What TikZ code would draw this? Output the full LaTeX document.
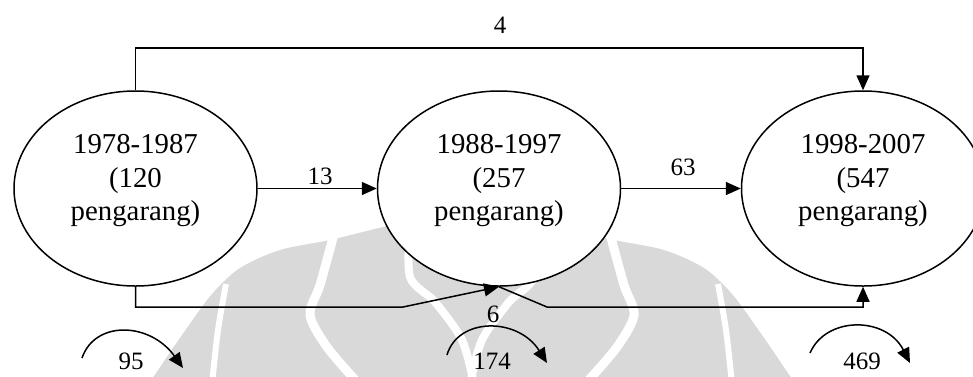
\documentclass[tikz,border=0pt]{standalone}
\usepackage{fontspec}
\setmainfont{Liberation Serif}
\usetikzlibrary{arrows.meta,shapes.geometric}
\begin{document}
\begin{tikzpicture}[x=1pt,y=-1pt,
  conn/.style={line width=1.5pt},
  arr/.style={conn,-{Triangle[length=15pt,width=13pt]}},
  period/.style={ellipse,draw,line width=1.5pt,fill=white,minimum width=243pt,minimum height=195pt,inner sep=0pt},
  ptext/.style={align=center,font=\fontsize{28.8}{33.5}\selectfont,inner sep=0pt},
  lbl/.style={font=\fontsize{25}{30}\selectfont,inner sep=0pt,anchor=base},
  wm/.style={fill=black!15},
  band/.style={draw=white,line width=8pt}]
\path[use as bounding box] (0,0) rectangle (973,376);
\clip (0,0) rectangle (973,376);
% watermark
\fill[wm] plot[smooth] coordinates {(150,382) (182,335) (212,294) (240,268) (280,250) (330,240) (383,227) (430,217) (472,214) (514,217) (561,227) (614,240) (664,250) (704,268) (732,294) (762,335) (794,382)} -- cycle;
\draw[band,line width=6pt] plot[smooth] coordinates {(226,284) (218,330) (212,384)};
\draw[band,line width=6pt] plot[smooth] coordinates {(718,284) (726,330) (732,384)};
\draw[band,line width=9pt] plot[smooth] coordinates {(334,234) (320,285) (310,315) (327,347) (357,382)};
\draw[band,line width=9pt] plot[smooth] coordinates {(610,234) (624,285) (634,315) (617,347) (587,382)};
\draw[band] plot[smooth] coordinates {(410,225) (410,277) (435,302) (462,340) (474,384)};
\draw[band] plot[smooth] coordinates {(534,225) (534,277) (509,302) (482,340) (470,384)};
% periods
\node[period] (e1) at (135.5,188.5) {};
\node[period] (e2) at (499,188.5) {};
\node[period] (e3) at (863,188.5) {};
\node[ptext] (t1) at (135.5,181) {1978-1987\\(120\\pengarang)};
\node[ptext] (t2) at (499,181) {1988-1997\\(257\\pengarang)};
\node[ptext] (t3) at (863,181) {1998-2007\\(547\\pengarang)};
% connectors
\coordinate (top) at (500,48);
\coordinate (b1) at (403,307);
\coordinate (b2) at (547,307);
\draw[arr] (e1.north) |- (top) -| (e3.north);
\draw[arr] (e1.east) -- (e2.west);
\draw[arr] (e2.east) -- (e3.west);
\draw[arr] (e1.south) |- (b1) -- (e2.south);
\draw[arr] (e2.south) -- (b2) -| (e3.south);
% self loops
\coordinate (s1a) at (82,358); \coordinate (s1b) at (183,368);
\coordinate (s2a) at (447,355); \coordinate (s2b) at (547,363);
\coordinate (s3a) at (810,353); \coordinate (s3b) at (910,363);
\draw[arr] (s1a) .. controls (95,320) and (150,322) .. (s1b);
\draw[arr] (s2a) .. controls (458,317) and (518,317) .. (s2b);
\draw[arr] (s3a) .. controls (826,316) and (886,316) .. (s3b);
% labels
\node[lbl] (l4) at (500,33) {4};
\node[lbl] (l13) at (320,184) {13};
\node[lbl] (l63) at (683,175) {63};
\node[lbl] (l6) at (493,322) {6};
\node[lbl] (l95) at (131,369) {95};
\node[lbl] (l174) at (492,369) {174};
\node[lbl] (l469) at (862,369) {469};
\end{tikzpicture}
\end{document}
